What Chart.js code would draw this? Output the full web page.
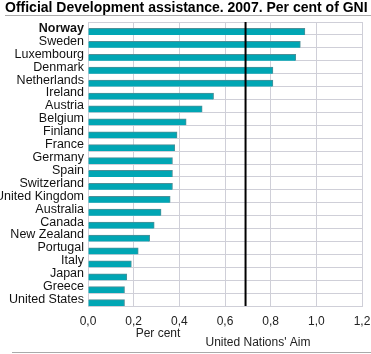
<!DOCTYPE html>
<html>
<head>
<meta charset="utf-8">
<script src="https://cdn.jsdelivr.net/npm/chart.js@4.4.0/dist/chart.umd.min.js"></script>
<style>
  html, body { margin: 0; padding: 0; background: #fff; }
  #wrap { width: 371px; height: 354px; position: relative; }
</style>
</head>
<body>
<div id="wrap"><canvas id="odaChart"></canvas></div>
<script>
var countries = ['Norway', 'Sweden', 'Luxembourg', 'Denmark', 'Netherlands', 'Ireland',
    'Austria', 'Belgium', 'Finland', 'France', 'Germany', 'Spain', 'Switzerland',
    'United Kingdom', 'Australia', 'Canada', 'New Zealand', 'Portugal', 'Italy',
    'Japan', 'Greece', 'United States'];
var oda = [0.95, 0.93, 0.91, 0.81, 0.81, 0.55, 0.50, 0.43, 0.39, 0.38, 0.37, 0.37, 0.37,
    0.36, 0.32, 0.29, 0.27, 0.22, 0.19, 0.17, 0.16, 0.16];
var unAim = 0.69;
var xTicks = [0, 0.2, 0.4, 0.6, 0.8, 1.0, 1.2];

var FONT = 'Liberation Sans, Arial, sans-serif';

// title, aim line and bottom texts
var extras = {
    id: 'extras',
    afterDatasetsDraw: function (chart) {
        var c = chart.ctx, area = chart.chartArea, x = chart.scales.x;
        var px = x.getPixelForValue(unAim);
        c.save();
        c.strokeStyle = '#000';
        c.lineWidth = 2;
        c.beginPath();
        c.moveTo(px, area.top);
        c.lineTo(px, area.bottom);
        c.stroke();
        c.restore();
    },
    afterDraw: function (chart) {
        var c = chart.ctx;
        c.save();
        c.fillStyle = '#000';
        c.font = 'bold 14px ' + FONT;
        c.textBaseline = 'alphabetic';
        c.textAlign = 'left';
        c.fillText('Official Development assistance. 2007. Per cent of GNI', 5, 12);
        c.strokeStyle = '#aaaaaa';
        c.lineWidth = 1;
        c.beginPath();
        c.moveTo(5, 15.5);
        c.lineTo(371, 15.5);
        c.moveTo(12, 352.5);
        c.lineTo(371, 352.5);
        c.stroke();
        c.fillStyle = '#222';
        c.font = '12px ' + FONT;
        c.textAlign = 'center';
        c.fillText('Per cent', 158, 337);
        c.fillText("United Nations' Aim", 258, 346);
        c.restore();
    }
};

new Chart(document.getElementById('odaChart'), {
    type: 'bar',
    data: {
        labels: countries,
        datasets: [{
            data: countries.map(function () { return null; }),
            backgroundColor: 'rgba(0,0,0,0)'
        }, {
            data: oda,
            backgroundColor: '#00a6b4',
            borderColor: '#4e8f97',
            borderWidth: { top: 1, right: 1, bottom: 0, left: 0 },
            borderSkipped: false
        }]
    },
    options: {
        indexAxis: 'y',
        responsive: true,
        maintainAspectRatio: false,
        animation: false,
        layout: { padding: { top: 22, right: 0, left: 0, bottom: 0 } },
        datasets: { bar: { categoryPercentage: 1.0, barPercentage: 1.0 } },
        plugins: {
            legend: { display: false },
            title: { display: false },
            tooltip: { enabled: false }
        },
        scales: {
            x: {
                min: 0,
                max: 1.2,
                afterBuildTicks: function (scale) {
                    scale.ticks = xTicks.map(function (v) { return { value: v }; });
                },
                afterFit: function (scale) {
                    scale.height = 48;
                    scale.paddingRight = 9;
                },
                grid: { color: '#cfcfd8', drawTicks: false },
                border: { color: '#cfcfd8' },
                ticks: {
                    padding: 8,
                    color: '#222',
                    font: { family: FONT, size: 12 },
                    callback: function (v) { return v.toFixed(1).replace('.', ','); }
                }
            },
            y: {
                afterFit: function (scale) { scale.width = 88; },
                grid: { color: '#cfcfd8', drawTicks: false },
                border: { color: '#cfcfd8' },
                ticks: {
                    autoSkip: false,
                    padding: 4,
                    color: '#111',
                    font: function (ctx) {
                        return { family: FONT, size: 12.5, weight: ctx.index === 0 ? 'bold' : 'normal' };
                    }
                }
            }
        }
    },
    plugins: [extras]
});
</script>
</body>
</html>
